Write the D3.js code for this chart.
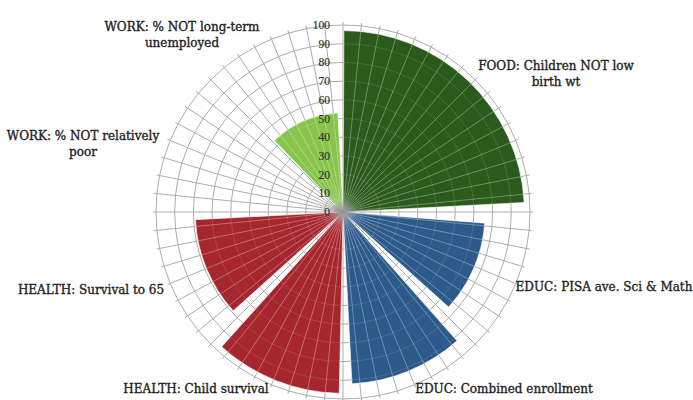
<!DOCTYPE html>
<html><head><meta charset="utf-8">
<script src="https://cdn.jsdelivr.net/npm/d3@7"></script>
<style>body{margin:0;background:#fff}svg{display:block}</style>
</head><body><svg id="c" width="693" height="400"></svg>
<script>
// ---- data ----
const categories = [
  "FOOD: Children NOT low birth wt",
  "EDUC: PISA ave. Sci & Math",
  "EDUC: Combined enrollment",
  "HEALTH: Child survival",
  "HEALTH: Survival to 65",
  "WORK: % NOT relatively poor",
  "WORK: % NOT long-term unemployed"
];
const values = [97, 76, 92, 97, 79, 0, 53];
const groups = ["FOOD", "EDUC", "EDUC", "HEALTH", "HEALTH", "WORK", "WORK"];
const tickValues = [0, 10, 20, 30, 40, 50, 60, 70, 80, 90, 100];

// ---- layout ----
const slots = [2, 1, 1, 1, 1, 1, 1];           // width of each sector in 45° slots
const colors = {FOOD: "#2b5a1c", EDUC: "#2c5a8b", HEALTH: "#a5262c", WORK: "#86c44a"};
const svg = d3.select("#c");
const cx = 343, cy = 212, R = 187;
const r = d3.scaleLinear().domain([0, 100]).range([0, R]);
const g = svg.append("g").attr("transform", `translate(${cx},${cy})`);
const deg = Math.PI / 180;

// grid
const nSpokes = 64;
const spokes = d3.range(nSpokes).map(i => i * 2 * Math.PI / nSpokes);
const grid = g.append("g");
grid.selectAll("circle").data(tickValues.slice(1)).join("circle")
  .attr("r", d => r(d)).attr("fill", "none").attr("stroke", "#adadad").attr("stroke-width", 1);
grid.selectAll("line").data(spokes).join("line")
  .attr("x1", 0).attr("y1", 0)
  .attr("x2", a => Math.sin(a) * (R + 3)).attr("y2", a => -Math.cos(a) * (R + 3))
  .attr("stroke", "#adadad").attr("stroke-width", 1);

// sectors
let acc = 0;
const startInset = [0.3, 4.5, 3.5, 1.2, 3, 2, 1.2];
const sectors = values.map((v, i) => {
  const s = acc * 45 * deg, e = (acc + slots[i]) * 45 * deg;
  acc += slots[i];
  return {v, group: groups[i], start: s + startInset[i] * deg, end: e - 3 * deg};
});
const arc = d3.arc().innerRadius(0).outerRadius(d => r(d.v))
  .startAngle(d => d.start).endAngle(d => d.end);
const defs = svg.append("defs");
const clip = defs.append("clipPath").attr("id", "barclip");
clip.selectAll("path").data(sectors.filter(d => d.v > 0)).join("path").attr("d", arc);

g.append("g").selectAll("path").data(sectors.filter(d => d.v > 0)).join("path")
  .attr("d", arc).attr("fill", d => colors[d.group])
  .attr("stroke", "rgba(255,255,255,0.55)").attr("stroke-width", 1);

// faint overlay grid inside bars
const ov = g.append("g").attr("clip-path", "url(#barclip)");
ov.selectAll("line").data(spokes).join("line")
  .attr("x1", 0).attr("y1", 0)
  .attr("x2", a => Math.sin(a) * R).attr("y2", a => -Math.cos(a) * R)
  .attr("stroke", "rgba(255,255,255,0.32)").attr("stroke-width", 1);
ov.selectAll("circle").data(tickValues.slice(1)).join("circle")
  .attr("r", d => r(d)).attr("fill", "none")
  .attr("stroke", "rgba(255,255,255,0.12)").attr("stroke-width", 1);

// center blur
const rg = defs.append("radialGradient").attr("id", "cg");
rg.append("stop").attr("offset", "0%").attr("stop-color", "#8c8c8c").attr("stop-opacity", 1);
rg.append("stop").attr("offset", "100%").attr("stop-color", "#8c8c8c").attr("stop-opacity", 0);
g.append("circle").attr("r", 13).attr("fill", "url(#cg)");

// radial axis labels
g.append("g").selectAll("text").data(tickValues).join("text")
  .attr("x", -13).attr("y", d => -r(d) + 4)
  .attr("text-anchor", "end")
  .attr("font-family", "Liberation Serif, serif").attr("font-size", 11.5)
  .attr("fill", "#333").attr("stroke", "#333").attr("stroke-width", 0.2).text(d => d);

// category labels
const labelLines = [
  ["FOOD: Children NOT low", "birth wt"],
  ["EDUC: PISA ave. Sci & Math"],
  ["EDUC: Combined enrollment"],
  ["HEALTH: Child survival"],
  ["HEALTH: Survival to 65"],
  ["WORK: % NOT relatively", "poor"],
  ["WORK: % NOT long-term", "unemployed"]
];
const labelPos = [[556, 70], [604, 291], [504, 393], [196, 393], [91, 294], [83, 140], [182, 31]];
const lt = svg.append("g").attr("font-family", "DejaVu Serif, serif").attr("font-size", 12)
  .attr("fill", "#222").attr("stroke", "#222").attr("stroke-width", 0.35).attr("text-anchor", "middle");
labelLines.forEach((lines, i) => {
  const t = lt.append("text").attr("x", labelPos[i][0]).attr("y", labelPos[i][1]);
  lines.forEach((l, j) => t.append("tspan").attr("x", labelPos[i][0]).attr("dy", j ? 16 : 0).text(l));
});
</script>
</body></html>
